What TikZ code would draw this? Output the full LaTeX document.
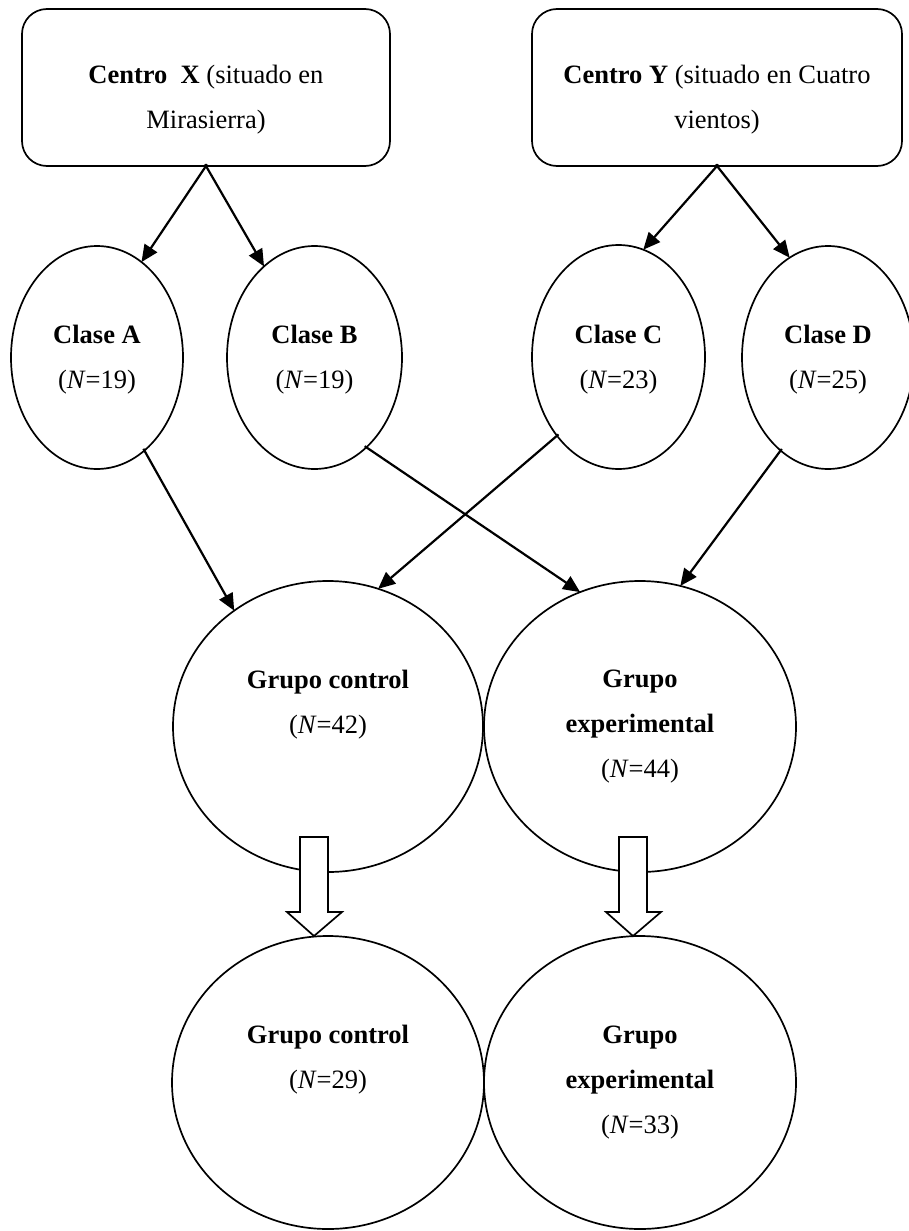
\documentclass[tikz,border=0pt]{standalone}
\usepackage{fontspec}
\setmainfont{Liberation Serif}
\usetikzlibrary{shapes.geometric,arrows.meta,calc}
\begin{document}
\begin{tikzpicture}[x=1pt,y=-1pt,
  every node/.style={inner sep=0pt, outer sep=0pt},
  txt/.style={anchor=north, align=center, font=\fontsize{26.5}{45}\selectfont},
  centrobox/.style={draw, line width=1.7pt, rounded corners=25pt},
  oval/.style={draw, ellipse, line width=1.7pt},
  link/.style={line width=2.2pt, shorten <=-2pt, -{Triangle[length=17pt,width=15pt]}},
  blockarrow/.style={draw, fill=white, line width=1.7pt, line join=miter}
]
\useasboundingbox (0,0) rectangle (908,1231);

% schools
\node[centrobox, minimum width=368pt, minimum height=157pt] (X) at (206,87.5) {};
\node[centrobox, minimum width=370pt, minimum height=157pt] (Y) at (717,87.5) {};
\node[txt] (tX) at (206,51.5) {\strut\textbf{Centro\ \ X} (situado en\\Mirasierra)};
\node[txt] (tY) at (717,51.5) {\strut\textbf{Centro Y} (situado en Cuatro\\vientos)};

% classes
\node[oval, minimum width=172pt, minimum height=223pt] (A) at (97,357.5) {};
\node[oval, minimum width=175pt, minimum height=223pt] (B) at (314.5,357.5) {};
\node[oval, minimum width=173pt, minimum height=224pt] (C) at (618.5,357) {};
\node[oval, minimum width=172pt, minimum height=223pt] (D) at (828,357.5) {};
\node[txt] (tA) at (97,311.5) {\strut\textbf{Clase A}\\(\textit{N}=19)};
\node[txt] (tB) at (314.5,311.5) {\strut\textbf{Clase B}\\(\textit{N}=19)};
\node[txt] (tC) at (618.5,311.5) {\strut\textbf{Clase C}\\(\textit{N}=23)};
\node[txt] (tD) at (828,311.5) {\strut\textbf{Clase D}\\(\textit{N}=25)};

% groups before
\node[oval, minimum width=310pt, minimum height=291pt] (GC) at (328,726.5) {};
\node[oval, minimum width=312pt, minimum height=291pt] (GE) at (640,726.5) {};
\node[txt] (tGC) at (328,656.5) {\strut\textbf{Grupo control}\\(\textit{N}=42)};
\node[txt] (tGE) at (640,656) {\strut\textbf{Grupo}\\\textbf{experimental}\\(\textit{N}=44)};

% groups after
\node[oval, minimum width=312pt, minimum height=293pt] (GCb) at (328,1082.5) {};
\node[oval, minimum width=312pt, minimum height=293pt] (GEb) at (640,1082.5) {};
\node[txt] (tGCb) at (328,1012) {\strut\textbf{Grupo control}\\(\textit{N}=29)};
\node[txt] (tGEb) at (640,1012) {\strut\textbf{Grupo}\\\textbf{experimental}\\(\textit{N}=33)};

% assignment arrows
\draw[link] (X.south) -- (A.65);
\draw[link] (X.south) -- (B.119);
\draw[link] (Y.south) -- (C.77);
\draw[link] (Y.south) -- (D.111);
\draw[link] (A.-63) -- (GC.129);
\draw[link] (B.-60) -- (GE.114);
\draw[link] (C.-128) -- (GC.70);
\draw[link] (D.-117) -- (GE.74);

% hollow block arrows between the two stages
\coordinate (ga) at (314,837);
\coordinate (gb) at (633,837);
\foreach \c in {ga,gb}{
  \draw[blockarrow] ($(\c)+(-14,0)$) -- ($(\c)+(14,0)$) -- ($(\c)+(14,75)$)
    -- ($(\c)+(28,75)$) -- ($(\c)+(0,99)$) -- ($(\c)+(-27,75)$)
    -- ($(\c)+(-14,75)$) -- cycle;
}
\end{tikzpicture}
\end{document}
